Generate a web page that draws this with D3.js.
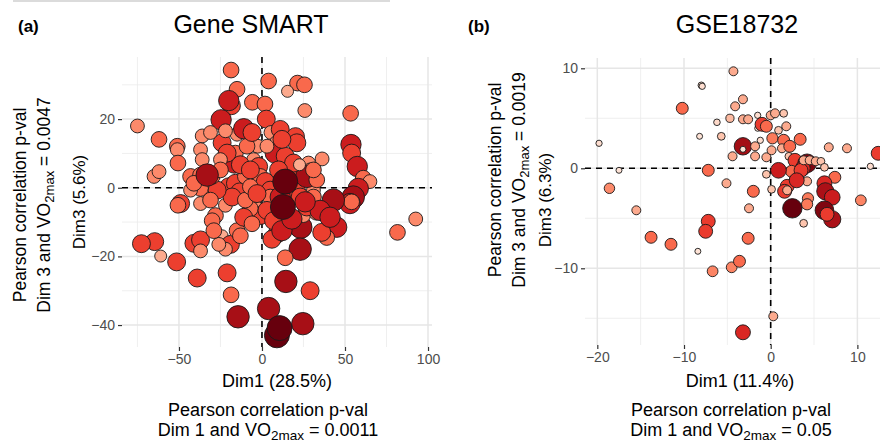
<!DOCTYPE html>
<html>
<head>
<meta charset="utf-8">
<script src="https://cdn.jsdelivr.net/npm/d3@7"></script>
<style>
  body { margin: 0; background: #fff; }
  text { font-family: "Liberation Sans", Arial, sans-serif; }
</style>
</head>
<body>
<svg id="chart" width="880" height="445"></svg>
<script>
// ---- Gene SMART (panel a): individuals on Dim1 / Dim3, contrib drives fill + size
const smartDim1 = [
  -75, -62, -51, -51, -50.6, -65, -62, -36, -37, -36,
  -18.6, 4, 21.4, 25.6, 15.4, -15, -5.8, 1.8, -18.4, -20,
  25.8, 53.4, -24.6, 2.6, -24, -15, -11, -2.6, 5.4, 11,
  8.6, 20.2, 21, 8, 14, 28, 29, 36.2, 53.6, 54,
  57.4, 61, 65, 58, 55, 53, 54, 43, 45, 39,
  36, 23.4, 23, 25, 32.6, 21, 16, 9, 6, 14,
  14.4, 29, 4, 24.6, 9, 10.6, -14.4, -18.6, -21, -39,
  -51.4, -61, -64.6, -72.6, -41, -37, -37, -24, -19, -22,
  -15, -13, -28, -30, -37, -49, -50.6, -43, -31, -37,
  -22, -20, -16, -13.4, -10, -16.6, -16, -9, -22, -5,
  -2, -1, 2, 5, 5, -4, -1, -7, -11, -6,
  3, 7, 12, 18, 27, 31, 31, 35, 41, 17,
  27, 33, 31, -6, -31, -18, -27, -31, -43, -10,
  -13, -7, 12, 3, -21, -25, -30, -25, 19, 10,
  23, 26, 11, -37, -41, -26, -29, -7, -3, -33,
  14, 12.6, 22.6, 81.6, 92.6
];
const smartDim3 = [
  18, 14.1, 12.1, 11.1, 7.2, 3.3, 4.7, 15.1, 11.1, 8.2,
  34.3, 31.1, 30.5, 30, 28.1, 28.7, 24.9, 24.4, 23.9, 25.4,
  22.5, 21.7, 19.8, 20, 13.1, 15.6, 17.2, 12.1, 16.1, 17,
  13.1, 14.9, 13.1, 10.1, 9.2, 7.2, 5.2, 8.4, 12.6, 10.1,
  6.2, 2.8, 1.8, -0.2, -2.7, -4.6, -4.1, -3.6, -11.5, -14.5,
  -13, -11.5, -17.9, -8.1, -7.4, -1.2, -10, -13.5, -15, -20.4,
  -27.3, -30, -35.2, -39.6, -43, -40.9, -37.6, -31.2, -24.8, -26.3,
  -21.6, -19.9, -15.7, -16.3, -16.2, -15.2, -18.4, -14, -16.5, -17.9,
  -12.5, -14, -8.1, -9.6, -4.6, -4.6, -5.1, 3.3, -1.2, -0.2,
  -5.1, 0.3, 1.3, -1.2, 3.3, 7.2, 10.1, 12.1, 16.6, 8.2,
  6.2, 3.3, 1.8, -0.7, -2.7, -5.6, -8.1, -6.1, -8.6, -10.5,
  -6.6, -9.6, -12.5, -9.1, -5.6, -0.7, -2.7, -6.6, -8.6, 4.2,
  3.3, 2.3, 5.2, 16.1, 16.1, -2.7, -0.7, -3.6, -0.7, -3.6,
  6.7, 5.2, 14.1, 12.1, 10.1, 8.2, 3.3, 5.2, 7.2, 5.2,
  -2.7, -4.1, -2.7, 3.7, 1.3, -16.5, -12.5, 0.3, -1.7, 3.7,
  1.8, -5.6, 6.7, -13, -9.1
];
const smartContrib = [
  .4, .5, .5, .4, .5, .4, .4, .4, .4, .4,
  .5, .5, .5, .5, .3, .5, .5, .5, .62, .75,
  .4, .5, .75, .62, .62, .4, .75, .4, .4, .62,
  .4, .62, .62, .75, .62, .4, .4, .4, .75, .62,
  .75, .5, .4, .75, .86, .75, .5, .86, .75, .5,
  .62, .86, .86, .4, .4, .62, .4, .62, .62, .5,
  .86, .62, .86, .86, 1, 1, .86, .5, .62, .62,
  .62, .3, .62, .62, .62, .62, .4, .3, .62, .4,
  .5, .5, .5, .5, .4, .62, .5, .5, .4, .5,
  .4, .62, .62, .62, .5, .75, .5, .5, .4, .4,
  .62, .5, .62, .62, .5, .4, .62, .5, .62, .5,
  .62, .62, .75, .75, .62, .4, .5, .75, .75, .62,
  .86, .5, .5, .62, .4, .62, .62, .5, .4, .5,
  .62, .62, .62, .4, .62, .4, .5, .5, .62, .62,
  .62, .75, .75, .5, .5, .4, .5, .5, .62, .86,
  1, 1, .3, .5, .4
];

// ---- GSE18732 (panel b)
const gseDim1 = [
  -19.8, -17.5, -18.6, -15.5, -13.8, -11.5, -10.2, -8, -7.9, -8.2,
  -8.4, -7.2, -7.2, -7.5, -6.7, -5.7, -6.2, -5.1, -4.3, -4.1,
  -3.2, -4.7, -4.4, -4.5, -3.6, -3.2, -3.2, -2.6, -2.5, -2,
  -3.2, -2.6, -1.8, -1.8, -1.5, -1.5, -1, -0.5, -1.2, -0.5,
  -0.5, 0.1, 0.3, -3.2, 0, 0.5, 1.5, 0.2, 0.1, 0.9,
  1.5, 1.8, 1.3, 2.2, 2.1, 1.8, 1.9, 1.6, 1.9, 3.4,
  2.8, 3, 2.4, 4.2, 3.7, 3.5, 3.8, 4.2, 4.3, 4.2,
  3.8, 4.5, 5.2, 5.8, 6.2, 6.7, 7.4, 6.2, 6.3, 7.1,
  6.2, 7.1, 6.5, 8.8, 10.4, 11.5, 12.4, 2.5, 0.9, 3
];
const gseDim3 = [
  2.5, -0.2, -2, -4.2, -6.9, -7.6, 6, 8.3, 8.2, 3.2,
  -8.3, -0.2, -5.3, -6.3, -10.3, 3.2, 4.6, -1.5, 9.7, 6.2,
  6.9, 5, 1.2, -9.9, -9.3, 2.2, 1.9, -7, -4, -2.3,
  4.9, 4.9, 2.2, 1.2, 5.3, 4, 4.4, 4.2, 2.8, 1.1,
  -0.6, -2.1, -14.8, -16.4, 5.3, 5.5, 5.5, 3, 1.8, 3.8,
  2.8, 4.2, 2, 2.2, 1.2, -2.2, -1.8, -2.3, -2.2, 2.9,
  0.8, -1, -0.3, 0.5, 0, -0.2, 0.8, -1.3, -3, -3.6,
  -5.5, 0.8, 0.7, 0.7, 0.1, 2.1, -0.9, -1.5, -2.3, -2.9,
  -4.2, -5.1, -4.6, 2, -3.2, 0.2, 1.5, -4, -0.2, -1.2
];
const gseContrib = [
  .12, .1, .4, .3, .5, .5, .5, .14, .12, .1,
  .1, .5, .63, .63, .42, .22, .14, .3, .3, .3,
  .3, .25, .3, .42, .5, .87, .1, .5, .3, .5,
  .3, .3, .3, .3, .12, .1, .63, .5, .12, .3,
  .22, .22, .3, .7, .3, .3, .22, .45, .3, .22,
  .5, .3, .3, .5, .22, .45, .63, .63, .3, .5,
  .63, .63, .5, .95, .7, .63, .3, .3, .45, .45,
  .22, .3, .3, .22, .22, .3, .5, .7, .85, .75,
  .95, .85, .63, .3, .42, .12, .63, 1, .75, .7
];

// tick labels
const smartXTicks = [-50, 0, 50, 100];
const smartYTicks = [-40, -20, 0, 20];
const gseXTicks = [-20, -10, 0, 10];
const gseYTicks = [-10, 0, 10];

const svg = d3.select("#chart");
const color = d3.scaleSequential(d3.interpolateReds).domain([0, 1]);

// thin rule at the very top left
svg.append("line")
  .attr("x1", 13).attr("x2", 390).attr("y1", 1).attr("y2", 1)
  .attr("stroke", "#cfcfcf").attr("stroke-width", 1.5);

function minorOf(ticks, domain) {
  const step = ticks[1] - ticks[0];
  const out = ticks.map(t => t - step / 2);
  out.push(ticks[ticks.length - 1] + step / 2);
  const lo = Math.min(...domain), hi = Math.max(...domain);
  return out.filter(v => v > lo && v < hi);
}

// text with "VO2max" subscript
function addVO2(sel, before, after) {
  sel.append("tspan").text(before + "VO");
  sel.append("tspan").attr("font-size", "75%").attr("dy", 4).text("2max");
  sel.append("tspan").attr("dy", -4).text(after);
}

function drawPanel(p) {
  const x = d3.scaleLinear().domain(p.xDomain).range([p.left, p.right]);
  const y = d3.scaleLinear().domain(p.yDomain).range([p.bottom, p.top]);
  const r = d3.scaleLinear().domain(p.cDomain).range(p.rRange);
  const g = svg.append("g");

  // grid
  const grid = g.append("g");
  grid.selectAll(".vminor").data(minorOf(p.xTicks, p.xDomain)).enter().append("line")
    .attr("x1", d => x(d)).attr("x2", d => x(d)).attr("y1", p.top).attr("y2", p.bottom)
    .attr("stroke", "#ebebeb").attr("stroke-width", 0.8);
  grid.selectAll(".hminor").data(minorOf(p.yTicks, p.yDomain)).enter().append("line")
    .attr("x1", p.left).attr("x2", p.right).attr("y1", d => y(d)).attr("y2", d => y(d))
    .attr("stroke", "#ebebeb").attr("stroke-width", 0.8);
  grid.selectAll(".vmajor").data(p.xTicks).enter().append("line")
    .attr("x1", d => x(d)).attr("x2", d => x(d)).attr("y1", p.top).attr("y2", p.bottom)
    .attr("stroke", "#e6e6e6").attr("stroke-width", 1.5);
  grid.selectAll(".hmajor").data(p.yTicks).enter().append("line")
    .attr("x1", p.left).attr("x2", p.right).attr("y1", d => y(d)).attr("y2", d => y(d))
    .attr("stroke", "#e6e6e6").attr("stroke-width", 1.5);

  // axes: ticks + labels only
  const xAxis = g.append("g").attr("transform", `translate(0,${p.bottom})`)
    .call(d3.axisBottom(x).tickValues(p.xTicks).tickSize(4).tickPadding(3));
  const yAxis = g.append("g").attr("transform", `translate(${p.left},0)`)
    .call(d3.axisLeft(y).tickValues(p.yTicks).tickSize(4).tickPadding(3));
  [xAxis, yAxis].forEach(a => {
    a.select(".domain").remove();
    a.selectAll("line").attr("stroke", "#333").attr("stroke-width", 1.2);
    a.selectAll("text").attr("fill", "#4d4d4d").style("font-size", "14px")
      .style("font-family", '"Liberation Sans", Arial, sans-serif');
  });

  // reference lines at 0
  g.append("line").attr("x1", p.left).attr("x2", p.right)
    .attr("y1", y(0)).attr("y2", y(0))
    .attr("stroke", "#000").attr("stroke-width", 1.6).attr("stroke-dasharray", "6,5");
  g.append("line").attr("x1", x(0)).attr("x2", x(0))
    .attr("y1", p.top).attr("y2", p.bottom)
    .attr("stroke", "#000").attr("stroke-width", 1.6).attr("stroke-dasharray", "6,5");

  // points
  g.append("g").selectAll("circle")
    .data(d3.range(p.dim1.length)).enter().append("circle")
    .attr("cx", i => x(p.dim1[i]))
    .attr("cy", i => y(p.dim3[i]))
    .attr("r", i => r(p.contrib[i]))
    .attr("fill", i => color(p.contrib[i]))
    .attr("stroke", "#1a1a1a").attr("stroke-width", 0.9);

  // titles
  svg.append("text").attr("x", p.tagX).attr("y", 32)
    .attr("font-weight", "bold").attr("font-size", 17).text(p.tag);
  svg.append("text").attr("x", p.titleX).attr("y", 33)
    .attr("text-anchor", "middle").attr("font-size", 25).text(p.title);

  // x axis titles
  const cx = (p.left + p.right) / 2;
  svg.append("text").attr("x", cx).attr("y", 387)
    .attr("text-anchor", "middle").attr("font-size", 18).text(p.xLabel);
  svg.append("text").attr("x", p.pxX).attr("y", 416)
    .attr("text-anchor", "middle").attr("font-size", 18).text("Pearson correlation p-val");
  const xp = svg.append("text").attr("x", p.pxX).attr("y", 436)
    .attr("text-anchor", "middle").attr("font-size", 18);
  addVO2(xp, "Dim 1 and ", " = " + p.pX);

  // y axis titles (rotated)
  svg.append("text").attr("transform", `translate(${p.yLabelX},${p.yLabelY}) rotate(-90)`)
    .attr("text-anchor", "middle").attr("dy", "0.35em").attr("font-size", 17).text(p.yLabel);
  svg.append("text").attr("transform", `translate(${p.pyX1},${p.pyY}) rotate(-90)`)
    .attr("text-anchor", "middle").attr("dy", "0.35em").attr("font-size", 17.5)
    .text("Pearson correlation p-val");
  const yp = svg.append("text").attr("transform", `translate(${p.pyX2},${p.pyY}) rotate(-90)`)
    .attr("text-anchor", "middle").attr("dy", "0.35em").attr("font-size", 17.5);
  addVO2(yp, "Dim 3 and ", " = " + p.pY);
}

drawPanel({
  left: 122, right: 432, top: 57, bottom: 347,
  xDomain: [-84.3, 102.4], yDomain: [-46.4, 38.1],
  xTicks: smartXTicks, yTicks: smartYTicks,
  dim1: smartDim1, dim3: smartDim3, contrib: smartContrib,
  cDomain: [0.3, 1], rRange: [6, 12.5],
  tag: "(a)", tagX: 18, title: "Gene SMART", titleX: 251,
  xLabel: "Dim1 (28.5%)", yLabel: "Dim3 (5.6%)",
  pxX: 268, pX: "0.0011", pY: "0.0047",
  yLabelX: 79, yLabelY: 202, pyX1: 20, pyX2: 44, pyY: 205
});

drawPanel({
  left: 585, right: 895, top: 58, bottom: 345,
  xDomain: [-21.42, 14.34], yDomain: [-17.67, 11.03],
  xTicks: gseXTicks, yTicks: gseYTicks,
  dim1: gseDim1, dim3: gseDim3, contrib: gseContrib,
  cDomain: [0.1, 1], rRange: [3, 9.7],
  tag: "(b)", tagX: 468, title: "GSE18732", titleX: 737,
  xLabel: "Dim1 (11.4%)", yLabel: "Dim3 (6.3%)",
  pxX: 731, pX: "0.05", pY: "0.0019",
  yLabelX: 545, yLabelY: 200, pyX1: 495, pyX2: 519, pyY: 180
});
</script>
</body>
</html>
